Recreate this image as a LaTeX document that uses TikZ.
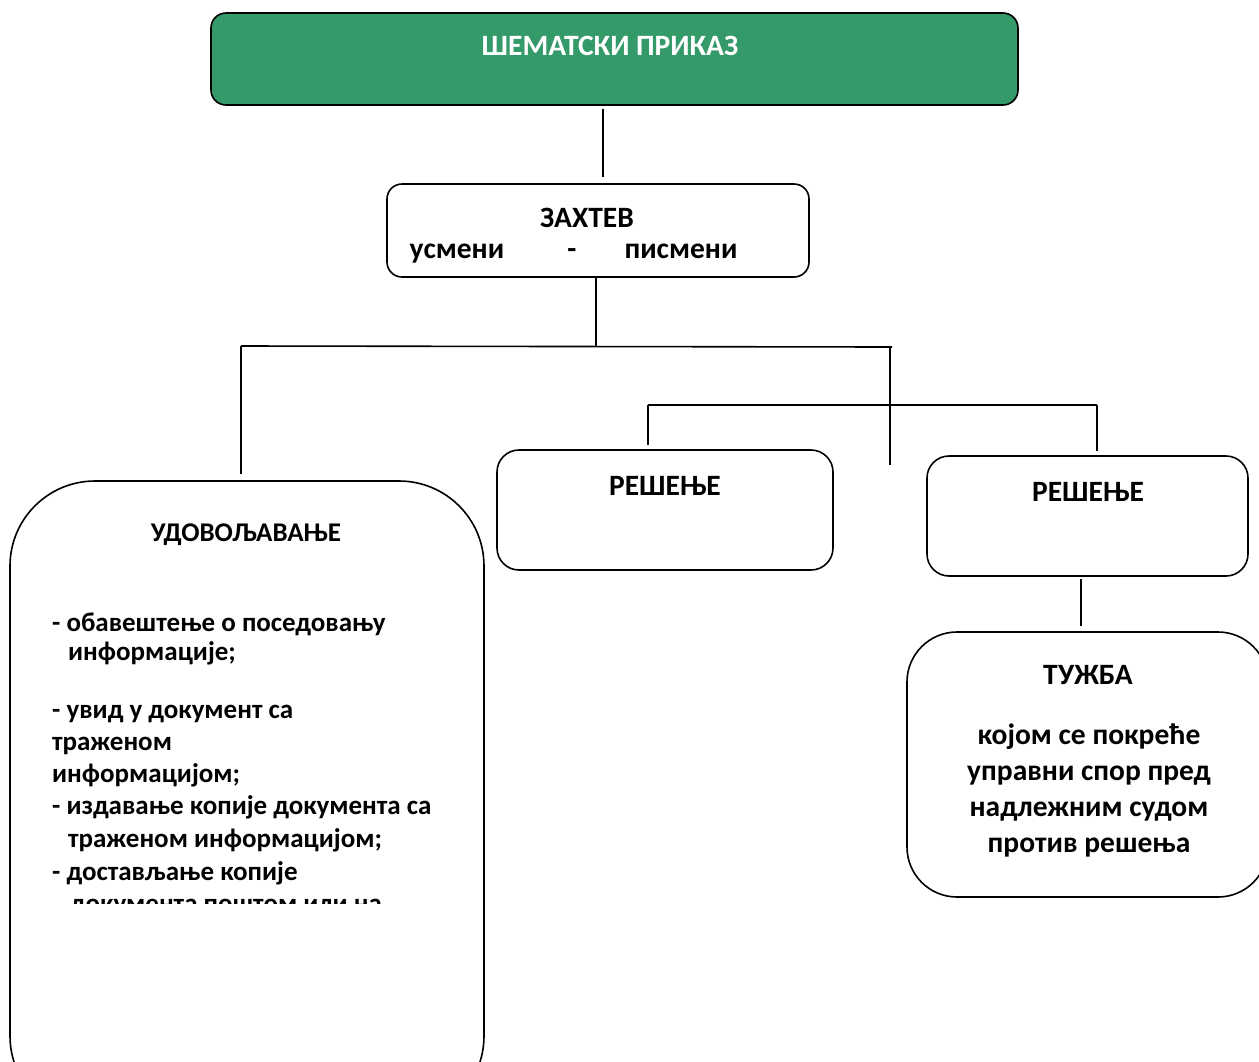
\documentclass[tikz,border=0pt]{standalone}
\usepackage{fontspec}
\setmainfont{Carlito}
\usetikzlibrary{calc}
\definecolor{titlegreen}{RGB}{52,154,105}
\begin{document}
\begin{tikzpicture}[x=1pt,y=-1pt,
  box/.style={draw,line width=1.6pt,inner sep=0pt,fill=white},
  conn/.style={line width=1.6pt},
  txt/.style={font=\fontsize{29.5}{34}\selectfont\bfseries,inner sep=0pt,anchor=base},
  stxt/.style={txt,font=\fontsize{27}{31}\selectfont\bfseries},
  ltxt/.style={stxt,anchor=base west}]
\useasboundingbox (0,0) rectangle (1259,1061);
\clip (0,0) rectangle (1259,1061);
\fill[white] (0,0) rectangle (1259,1061);

% boxes
\node[box,fill=titlegreen,rounded corners=15pt,minimum width=807pt,minimum height=92pt] (title) at (614.5,59) {};
\node[box,rounded corners=15pt,minimum width=422pt,minimum height=93pt] (zah) at (598,230.5) {};
\node[box,rounded corners=85pt,minimum width=474pt,minimum height=640pt] (udov) at (247,801) {};
\node[box,rounded corners=22pt,minimum width=336pt,minimum height=120pt] (res1) at (665,510) {};
\node[box,rounded corners=22pt,minimum width=321pt,minimum height=120pt] (res2) at (1087.5,516) {};
\node[box,rounded corners=50pt,minimum width=361pt,minimum height=265pt] (tuz) at (1087.5,764.5) {};

% texts
\node[txt,text=white] (titletxt) at (610,55) {ШЕМАТСКИ ПРИКАЗ};
\node[txt] (zahtxt) at (587,227) {ЗАХТЕВ};
\node[txt] (usm) at (457,258) {усмени};
\node[txt] (dash) at (572,258) {-};
\node[txt] (pis) at (681,258) {писмени};
\node[txt] (res1txt) at (665,495) {РЕШЕЊЕ};
\node[txt] (res2txt) at (1088,501) {РЕШЕЊЕ};
\node[stxt] (udovtxt) at (246,541) {УДОВОЉАВАЊЕ};
\node[ltxt] (l1) at (52,631) {- обавештење о поседовању};
\node[ltxt] (l2) at (68,660) {информације;};
\node[ltxt] (l3) at (52,718) {- увид у документ са};
\node[ltxt] (l4) at (52,750) {траженом};
\node[ltxt] (l5) at (52,782) {информацијом;};
\node[ltxt] (l6) at (52,814) {- издавање копије документа са};
\node[ltxt] (l7) at (68,847) {траженом информацијом;};
\node[ltxt] (l8) at (52,880) {- достављање копије};
\begin{scope}
\clip (0,0) rectangle (1259,903);
\node[ltxt] (l9) at (70,912) {документа поштом или на};
\end{scope}
\node[txt] (tuztxt) at (1088,684) {ТУЖБА};
\node[txt] (t1) at (1089,744) {којом се покреће};
\node[txt] (t2) at (1089,780) {управни спор пред};
\node[txt] (t3) at (1089,816) {надлежним судом};
\node[txt] (t4) at (1089,852) {против решења};

% junction coordinates
\coordinate (j1) at (596,346);
\coordinate (hl) at (241,346);
\coordinate (hr) at (892,347);
\coordinate (j2) at (890,346);
\coordinate (e2) at (890,465);
\coordinate (h2l) at (648,405);
\coordinate (h2r) at (1097,405);

% connectors
\draw[conn] ([xshift=-11.5pt,yshift=-3pt]title.south) -- ([xshift=5pt,yshift=6pt]zah.north);
\draw[conn] ([xshift=-2pt]zah.south) -- (j1);
\draw[conn] (hl) -- (hr);
\draw[conn] (hl) -- ([xshift=-6pt,yshift=6pt]udov.north);
\draw[conn] (j2) -- (e2);
\draw[conn] (h2l) -- (h2r);
\draw[conn] (h2l) -- ([xshift=-17pt,yshift=4pt]res1.north);
\draw[conn] (h2r) -- ([xshift=9.5pt,yshift=4pt]res2.north);
\draw[conn] ([xshift=-6.5pt,yshift=-2pt]res2.south) -- ([xshift=-6.5pt,yshift=5pt]tuz.north);
\end{tikzpicture}
\end{document}
